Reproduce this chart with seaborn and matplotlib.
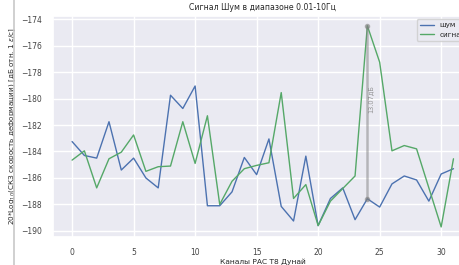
import numpy as np
import pandas as pd
import matplotlib
matplotlib.use("Agg")
import matplotlib.pyplot as plt
import seaborn as sns
from matplotlib.lines import Line2D

# DATA
channels = list(range(32))
noise = [-183.25, -184.3, -184.5, -181.75, -185.4, -184.5, -186.0, -186.75,
         -179.75, -180.75, -179.05, -188.1, -188.1, -187.05, -184.45, -185.75,
         -183.05, -188.15, -189.25, -184.35, -189.6, -187.55, -186.75, -189.15,
         -187.57, -188.2, -186.45, -185.85, -186.15, -187.75, -185.7, -185.3]
signal = [-184.65, -183.95, -186.75, -184.55, -184.05, -182.75, -185.5, -185.15,
          -185.1, -181.75, -184.9, -181.3, -188.0, -186.25, -185.3, -185.05,
          -184.85, -179.55, -187.55, -186.5, -189.6, -187.75, -186.8, -185.85,
          -174.5, -177.25, -183.95, -183.55, -183.8, -186.75, -189.7, -184.55]
peak_channel = 24

df = pd.DataFrame({"channel": channels * 2,
                   "value": noise + signal,
                   "series": ["шум"] * 32 + ["сигнал"] * 32})

sns.set_theme(style="darkgrid")
plt.rcParams['font.family'] = ['DejaVu Sans']

fig = plt.figure(figsize=(4.59, 2.65), dpi=100)
# axes runs past the right edge, like the cropped original
ax = fig.add_axes([0.1155, 0.1057, 0.914, 0.835])

sns.lineplot(data=df, x="channel", y="value", hue="series",
             palette=["#4c72b0", "#55a868"], linewidth=1.0, ax=ax)

# difference marker at the peak channel
n_val = noise[peak_channel]
s_val = signal[peak_channel]
ax.plot([peak_channel, peak_channel], [n_val, s_val], 'o-', color='gray',
        alpha=0.5, linewidth=1.8, markersize=3)
ax.text(peak_channel, (n_val + s_val) / 2, f"{s_val - n_val:.2f}дБ",
        rotation=90, color='gray', fontsize=4.8, alpha=0.8)

ax.set_title("Сигнал Шум в диапазоне 0.01-10Гц", fontsize=5.6, pad=4)
ax.set_xlabel("Каналы РАС Т8 Дунай", fontsize=5.4, labelpad=1)
ax.set_ylabel(r"20*Log$_{10}$(СКЗ скорость деформации) [дБ отн. 1 $\varepsilon$/с]",
              fontsize=5.2, labelpad=2)
ax.set_yticks(np.arange(-190, -173, 2))
ax.tick_params(labelsize=5.5, pad=2, labelcolor='#444444')
ax.legend(loc="upper right", fontsize=5.2, title=None)

# border line of the original screenshot
fig.add_artist(Line2D([14 / 459, 14 / 459], [0, 1], color='#c8c8c8',
                      linewidth=1.2, transform=fig.transFigure))

fig.savefig("out.png", dpi=100)
